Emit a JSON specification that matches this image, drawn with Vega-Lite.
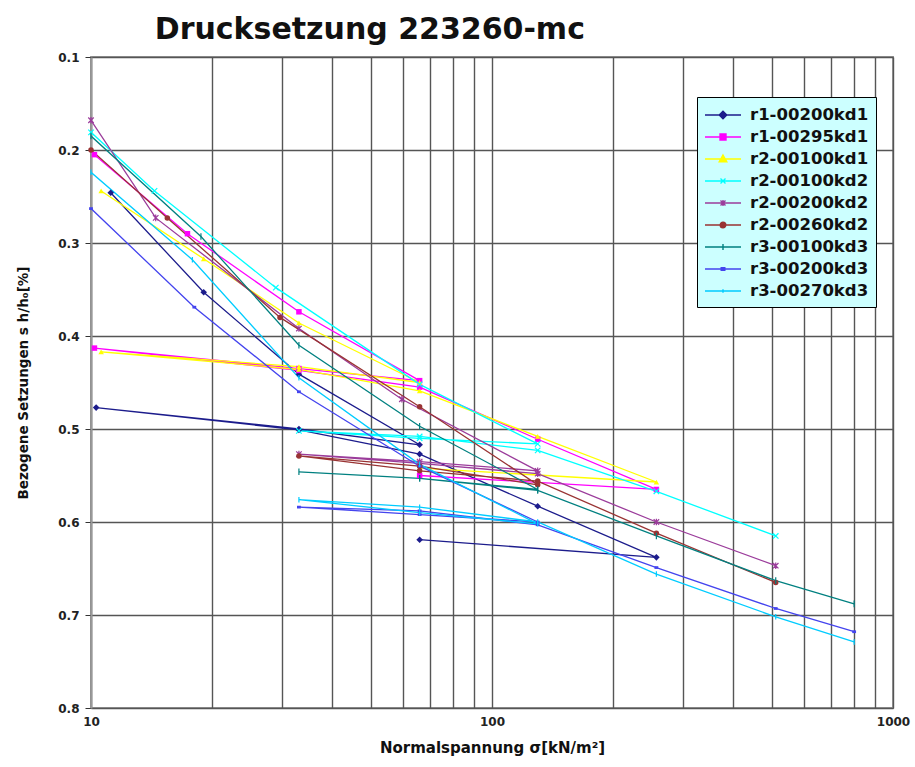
{
  "$schema": "https://vega.github.io/schema/vega-lite/v6.json",
  "width": 802,
  "height": 651,
  "autosize": {"type": "none"},
  "padding": {"left": 91, "top": 57, "right": 22, "bottom": 59},
  "background": "white",
  "title": {
    "text": "Drucksetzung 223260-mc",
    "anchor": "start",
    "dx": 138,
    "offset": 6,
    "font": "DejaVu Sans",
    "fontSize": 30,
    "fontWeight": "bold",
    "color": "#111111"
  },
  "config": {
    "view": {"stroke": "#999999", "strokeWidth": 2},
    "axis": {
      "labelFont": "DejaVu Sans",
      "labelFontWeight": "bold",
      "labelFontSize": 12,
      "labelColor": "#222222",
      "titleFont": "DejaVu Sans",
      "titleFontWeight": "bold",
      "titleColor": "#111111"
    },
    "point": {"size": 30, "strokeWidth": 1.2, "opacity": 1, "clip": true}
  },
  "data": {
    "values": [
      {"s": "r1-00200kd1", "o": 1, "x": 11.2, "y": 0.246},
      {"s": "r1-00200kd1", "o": 2, "x": 19.1, "y": 0.353},
      {"s": "r1-00200kd1", "o": 3, "x": 33, "y": 0.441},
      {"s": "r1-00200kd1", "o": 4, "x": 66, "y": 0.517},
      {"s": "r1-00200kd1", "o": 5, "x": 33, "y": 0.5},
      {"s": "r1-00200kd1", "o": 6, "x": 10.3, "y": 0.477},
      {"s": "r1-00200kd1", "o": 7, "x": 33, "y": 0.501},
      {"s": "r1-00200kd1", "o": 8, "x": 66, "y": 0.527},
      {"s": "r1-00200kd1", "o": 9, "x": 130, "y": 0.583},
      {"s": "r1-00200kd1", "o": 10, "x": 257, "y": 0.638},
      {"s": "r1-00200kd1", "o": 11, "x": 66, "y": 0.619},

      {"s": "r1-00295kd1", "o": 1, "x": 10.2, "y": 0.205},
      {"s": "r1-00295kd1", "o": 2, "x": 17.4, "y": 0.29},
      {"s": "r1-00295kd1", "o": 3, "x": 33, "y": 0.374},
      {"s": "r1-00295kd1", "o": 4, "x": 66, "y": 0.448},
      {"s": "r1-00295kd1", "o": 5, "x": 33, "y": 0.435},
      {"s": "r1-00295kd1", "o": 6, "x": 10.2, "y": 0.413},
      {"s": "r1-00295kd1", "o": 7, "x": 33, "y": 0.437},
      {"s": "r1-00295kd1", "o": 8, "x": 66, "y": 0.455},
      {"s": "r1-00295kd1", "o": 9, "x": 130, "y": 0.511},
      {"s": "r1-00295kd1", "o": 10, "x": 257, "y": 0.565},
      {"s": "r1-00295kd1", "o": 11, "x": 66, "y": 0.55},

      {"s": "r2-00100kd1", "o": 1, "x": 10.6, "y": 0.244},
      {"s": "r2-00100kd1", "o": 2, "x": 19.1, "y": 0.317},
      {"s": "r2-00100kd1", "o": 3, "x": 33, "y": 0.386},
      {"s": "r2-00100kd1", "o": 4, "x": 66, "y": 0.45},
      {"s": "r2-00100kd1", "o": 5, "x": 33, "y": 0.433},
      {"s": "r2-00100kd1", "o": 6, "x": 10.6, "y": 0.417},
      {"s": "r2-00100kd1", "o": 7, "x": 33, "y": 0.436},
      {"s": "r2-00100kd1", "o": 8, "x": 66, "y": 0.459},
      {"s": "r2-00100kd1", "o": 9, "x": 130, "y": 0.508},
      {"s": "r2-00100kd1", "o": 10, "x": 257, "y": 0.557},
      {"s": "r2-00100kd1", "o": 11, "x": 66, "y": 0.542},

      {"s": "r2-00100kd2", "o": 1, "x": 10, "y": 0.181},
      {"s": "r2-00100kd2", "o": 2, "x": 14.4, "y": 0.244},
      {"s": "r2-00100kd2", "o": 3, "x": 28.9, "y": 0.348},
      {"s": "r2-00100kd2", "o": 4, "x": 66, "y": 0.452},
      {"s": "r2-00100kd2", "o": 5, "x": 130, "y": 0.516},
      {"s": "r2-00100kd2", "o": 6, "x": 66, "y": 0.51},
      {"s": "r2-00100kd2", "o": 7, "x": 33, "y": 0.502},
      {"s": "r2-00100kd2", "o": 8, "x": 66, "y": 0.508},
      {"s": "r2-00100kd2", "o": 9, "x": 130, "y": 0.523},
      {"s": "r2-00100kd2", "o": 10, "x": 257, "y": 0.567},
      {"s": "r2-00100kd2", "o": 11, "x": 510, "y": 0.615},

      {"s": "r2-00200kd2", "o": 1, "x": 10, "y": 0.168},
      {"s": "r2-00200kd2", "o": 2, "x": 14.5, "y": 0.273},
      {"s": "r2-00200kd2", "o": 3, "x": 33, "y": 0.392},
      {"s": "r2-00200kd2", "o": 4, "x": 59.6, "y": 0.468},
      {"s": "r2-00200kd2", "o": 5, "x": 130, "y": 0.545},
      {"s": "r2-00200kd2", "o": 6, "x": 66, "y": 0.535},
      {"s": "r2-00200kd2", "o": 7, "x": 33, "y": 0.527},
      {"s": "r2-00200kd2", "o": 8, "x": 66, "y": 0.537},
      {"s": "r2-00200kd2", "o": 9, "x": 130, "y": 0.548},
      {"s": "r2-00200kd2", "o": 10, "x": 257, "y": 0.6},
      {"s": "r2-00200kd2", "o": 11, "x": 510, "y": 0.647},

      {"s": "r2-00260kd2", "o": 1, "x": 10, "y": 0.2},
      {"s": "r2-00260kd2", "o": 2, "x": 15.5, "y": 0.273},
      {"s": "r2-00260kd2", "o": 3, "x": 29.6, "y": 0.38},
      {"s": "r2-00260kd2", "o": 4, "x": 66, "y": 0.476},
      {"s": "r2-00260kd2", "o": 5, "x": 130, "y": 0.56},
      {"s": "r2-00260kd2", "o": 6, "x": 66, "y": 0.54},
      {"s": "r2-00260kd2", "o": 7, "x": 33, "y": 0.529},
      {"s": "r2-00260kd2", "o": 8, "x": 66, "y": 0.545},
      {"s": "r2-00260kd2", "o": 9, "x": 130, "y": 0.556},
      {"s": "r2-00260kd2", "o": 10, "x": 257, "y": 0.612},
      {"s": "r2-00260kd2", "o": 11, "x": 510, "y": 0.665},

      {"s": "r3-00100kd3", "o": 1, "x": 10, "y": 0.185},
      {"s": "r3-00100kd3", "o": 2, "x": 18.8, "y": 0.293},
      {"s": "r3-00100kd3", "o": 3, "x": 33, "y": 0.41},
      {"s": "r3-00100kd3", "o": 4, "x": 66, "y": 0.497},
      {"s": "r3-00100kd3", "o": 5, "x": 130, "y": 0.565},
      {"s": "r3-00100kd3", "o": 6, "x": 66, "y": 0.553},
      {"s": "r3-00100kd3", "o": 7, "x": 33, "y": 0.546},
      {"s": "r3-00100kd3", "o": 8, "x": 66, "y": 0.553},
      {"s": "r3-00100kd3", "o": 9, "x": 130, "y": 0.566},
      {"s": "r3-00100kd3", "o": 10, "x": 257, "y": 0.615},
      {"s": "r3-00100kd3", "o": 11, "x": 510, "y": 0.663},
      {"s": "r3-00100kd3", "o": 12, "x": 800, "y": 0.688},

      {"s": "r3-00200kd3", "o": 1, "x": 10, "y": 0.263},
      {"s": "r3-00200kd3", "o": 2, "x": 18.1, "y": 0.369},
      {"s": "r3-00200kd3", "o": 3, "x": 33, "y": 0.46},
      {"s": "r3-00200kd3", "o": 4, "x": 66, "y": 0.54},
      {"s": "r3-00200kd3", "o": 5, "x": 130, "y": 0.6},
      {"s": "r3-00200kd3", "o": 6, "x": 66, "y": 0.592},
      {"s": "r3-00200kd3", "o": 7, "x": 33, "y": 0.584},
      {"s": "r3-00200kd3", "o": 8, "x": 66, "y": 0.588},
      {"s": "r3-00200kd3", "o": 9, "x": 130, "y": 0.603},
      {"s": "r3-00200kd3", "o": 10, "x": 257, "y": 0.649},
      {"s": "r3-00200kd3", "o": 11, "x": 510, "y": 0.693},
      {"s": "r3-00200kd3", "o": 12, "x": 800, "y": 0.718},

      {"s": "r3-00270kd3", "o": 1, "x": 10, "y": 0.224},
      {"s": "r3-00270kd3", "o": 2, "x": 17.9, "y": 0.318},
      {"s": "r3-00270kd3", "o": 3, "x": 33, "y": 0.445},
      {"s": "r3-00270kd3", "o": 4, "x": 66, "y": 0.538},
      {"s": "r3-00270kd3", "o": 5, "x": 130, "y": 0.602},
      {"s": "r3-00270kd3", "o": 6, "x": 66, "y": 0.59},
      {"s": "r3-00270kd3", "o": 7, "x": 33, "y": 0.576},
      {"s": "r3-00270kd3", "o": 8, "x": 66, "y": 0.584},
      {"s": "r3-00270kd3", "o": 9, "x": 130, "y": 0.6},
      {"s": "r3-00270kd3", "o": 10, "x": 257, "y": 0.656},
      {"s": "r3-00270kd3", "o": 11, "x": 510, "y": 0.702},
      {"s": "r3-00270kd3", "o": 12, "x": 800, "y": 0.729}
    ]
  },
  "encoding": {
    "x": {
      "field": "x",
      "type": "quantitative",
      "scale": {"type": "log", "domain": [10, 1000], "nice": false},
      "axis": {
        "values": [10, 20, 30, 40, 50, 60, 70, 80, 90, 100, 200, 300, 400, 500, 600, 700, 800, 900, 1000],
        "format": "d",
        "labelExpr": "indexof([10, 100, 1000], datum.value) >= 0 ? datum.label : ''",
        "labelFlush": false,
        "labelOverlap": false,
        "labelPadding": 8,
        "ticks": false,
        "domain": false,
        "gridColor": "#555555",
        "gridWidth": 1.4,
        "title": "Normalspannung σ[kN/m²]",
        "titleFontSize": 15,
        "titlePadding": 13
      }
    },
    "y": {
      "field": "y",
      "type": "quantitative",
      "scale": {"domain": [0.1, 0.8], "reverse": true, "nice": false, "zero": false},
      "axis": {
        "values": [0.1, 0.2, 0.3, 0.4, 0.5, 0.6, 0.7, 0.8],
        "format": ".1f",
        "tickSize": 6,
        "tickColor": "#333333",
        "labelPadding": 6,
        "domainColor": "#999999",
        "domainWidth": 2,
        "gridColor": "#555555",
        "gridWidth": 1.6,
        "title": "Bezogene Setzungen  s h/h₀[%]",
        "titleFontSize": 13.5,
        "titlePadding": 27
      }
    },
    "color": {
      "field": "s",
      "type": "nominal",
      "scale": {
        "domain": ["r1-00200kd1", "r1-00295kd1", "r2-00100kd1", "r2-00100kd2", "r2-00200kd2", "r2-00260kd2", "r3-00100kd3", "r3-00200kd3", "r3-00270kd3"],
        "range": ["#1c1c8c", "#ff00ff", "#ffff00", "#00ffff", "#9b3c9b", "#993333", "#008080", "#4444ee", "#00ccff"]
      },
      "legend": null
    }
  },
  "layer": [
    {
      "mark": {"type": "line", "strokeWidth": 1.3, "clip": true},
      "encoding": {
        "order": {"field": "o", "type": "quantitative"},
        "color": {
          "field": "s",
          "type": "nominal",
          "legend": {
            "orient": "none",
            "legendX": 606,
            "legendY": 40,
            "title": null,
            "fillColor": "#ccffff",
            "strokeColor": "#000000",
            "padding": 7,
            "rowPadding": 2,
            "symbolSize": 400,
            "symbolStrokeWidth": 1.4,
            "labelFont": "DejaVu Sans",
            "labelFontWeight": "bold",
            "labelFontSize": 16.5,
            "labelColor": "#111111",
            "labelOffset": 24,
            "encode": {
              "symbols": {
                "update": {
                  "shape": {"signal": "['M-1,0H2.6M0.8,-0.38L1.18,0L0.8,0.38L0.42,0Z', 'M-1,0H2.6M0.5,-0.3H1.1V0.3H0.5Z', 'M-1,0H2.6M0.8,-0.4L1.18,0.28H0.42Z', 'M-1,0H2.6M0.55,-0.25L1.05,0.25M0.55,0.25L1.05,-0.25', 'M-1,0H2.6M0.55,-0.25L1.05,0.25M0.55,0.25L1.05,-0.25M0.8,-0.3V0.3', 'M-1,0H2.6M1.08,0A0.28,0.28 0 1,1 0.52,0A0.28,0.28 0 1,1 1.08,0Z', 'M-1,0H2.6M0.8,-0.3V0.3', 'M-1,0H2.6M0.62,-0.14H0.98V0.14H0.62Z', 'M-1,0H2.6M0.8,-0.18V0.18'][datum.index]"},
                  "fill": {"scale": "color", "field": "value"},
                  "stroke": {"scale": "color", "field": "value"}
                }
              }
            }
          }
        }
      }
    },
    {
      "transform": [{"filter": "datum.s == 'r1-00200kd1'"}],
      "mark": {"type": "point", "shape": "M0,-1.2L1.2,0L0,1.2L-1.2,0Z", "filled": true}
    },
    {
      "transform": [{"filter": "datum.s == 'r1-00295kd1'"}],
      "mark": {"type": "point", "shape": "square", "filled": true}
    },
    {
      "transform": [{"filter": "datum.s == 'r2-00100kd1'"}],
      "mark": {"type": "point", "shape": "triangle-up", "filled": true}
    },
    {
      "transform": [{"filter": "datum.s == 'r2-00100kd2'"}],
      "mark": {"type": "point", "shape": "M-1,-1L1,1M-1,1L1,-1", "filled": false}
    },
    {
      "transform": [{"filter": "datum.s == 'r2-00200kd2'"}],
      "mark": {"type": "point", "shape": "M-1,-1L1,1M-1,1L1,-1M0,-1.2V1.2", "filled": false}
    },
    {
      "transform": [{"filter": "datum.s == 'r2-00260kd2'"}],
      "mark": {"type": "point", "shape": "circle", "filled": true}
    },
    {
      "transform": [{"filter": "datum.s == 'r3-00100kd3'"}],
      "mark": {"type": "point", "shape": "M0,-1.2V1.2", "filled": false}
    },
    {
      "transform": [{"filter": "datum.s == 'r3-00200kd3'"}],
      "mark": {"type": "point", "shape": "M-0.7,-0.5H0.7V0.5H-0.7Z", "filled": true}
    },
    {
      "transform": [{"filter": "datum.s == 'r3-00270kd3'"}],
      "mark": {"type": "point", "shape": "M0,-1V1", "filled": false}
    }
  ]
}
